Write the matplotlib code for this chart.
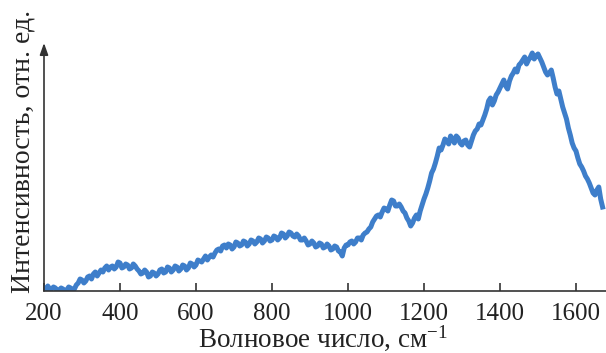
import matplotlib
matplotlib.use("Agg")
import matplotlib.pyplot as plt
import numpy as np

plt.rcParams['font.family'] = ['Liberation Serif', 'DejaVu Serif']
plt.rcParams['mathtext.fontset'] = 'custom'
plt.rcParams['mathtext.rm'] = 'Liberation Serif'
plt.rcParams['mathtext.it'] = 'Liberation Serif:italic'

wavenumber = list(range(200, 1675, 5))
intensity = [
    3, 1, 5, 2, 2, 4, 3, 0, 1, 3, 2, 0, 1, 4, 3, 1, 2, 6, 8, 12,
    11, 8, 10, 14, 15, 12, 17, 19, 15, 18, 21, 19, 23, 25, 21, 24, 25, 22, 24, 29,
    28, 23, 24, 27, 26, 22, 23, 27, 25, 22, 20, 17, 18, 21, 19, 14, 15, 19, 18, 15,
    17, 21, 22, 18, 19, 24, 23, 19, 21, 25, 24, 20, 22, 26, 25, 21, 23, 28, 27, 24,
    26, 31, 30, 29, 32, 35, 31, 34, 36, 34, 38, 41, 42, 40, 45, 46, 43, 47, 46, 42,
    44, 49, 48, 45, 46, 50, 49, 45, 47, 51, 50, 47, 49, 53, 52, 48, 50, 54, 53, 50,
    51, 55, 54, 51, 53, 58, 57, 53, 55, 59, 58, 55, 54, 57, 55, 51, 51, 53, 50, 46,
    47, 50, 48, 44, 45, 48, 47, 43, 44, 47, 45, 41, 42, 45, 44, 40, 39, 35, 43, 46,
    46, 49, 50, 47, 49, 53, 53, 51, 56, 58, 59, 62, 64, 69, 72, 75, 76, 74, 79, 83,
    82, 80, 86, 91, 90, 85, 85, 87, 84, 80, 78, 73, 70, 65, 68, 73, 76, 72, 80, 86,
    92, 97, 103, 110, 118, 122, 128, 135, 143, 141, 146, 152, 150, 147, 155, 152, 148, 155, 153, 148,
    146, 150, 151, 146, 144, 150, 156, 160, 162, 167, 166, 171, 176, 182, 190, 193, 186, 190, 196, 199,
    203, 207, 211, 205, 202, 210, 215, 218, 222, 219, 226, 228, 231, 234, 227, 231, 234, 238, 232, 235,
    237, 233, 229, 224, 219, 216, 218, 221, 213, 204, 197, 200, 192, 184, 178, 172, 163, 156, 148, 143,
    140, 133, 127, 124, 120, 115, 112, 108, 103, 98, 96, 101, 104, 92, 84,
]
xticks = [200, 400, 600, 800, 1000, 1200, 1400, 1600]

fig = plt.figure(figsize=(6.06, 3.53), dpi=100)
ax = fig.add_axes([44/606, 1-291/353, 1-44/606, (291-43)/353])
ax.plot(wavenumber, intensity, color='#3e7eca', lw=3.6, solid_joinstyle='round')
ax.set_xlim(200, 1679)
ax.set_ylim(0, 248)
for s in ['top', 'right', 'left']:
    ax.spines[s].set_visible(False)
ax.spines['bottom'].set_color('#333333')
ax.spines['bottom'].set_linewidth(1.2)
ax.set_xticks(xticks)
ax.set_xticklabels([str(t) for t in xticks])
ax.set_yticks([])
ax.tick_params(axis='x', direction='in', length=6, width=1.2, color='#333333',
               labelsize=18, pad=9, labelcolor='#222222')
ax.annotate('', xy=(0, 1.0), xytext=(0, 0), xycoords='axes fraction',
            arrowprops=dict(arrowstyle='-|>,head_length=0.7,head_width=0.25',
                            color='#333333', lw=1.2, shrinkA=0, shrinkB=0),
            annotation_clip=False)
fig.text(323/606, 1-347/353, 'Волновое число, см$^{-1}$', ha='center', va='baseline',
         fontsize=19.5, color='#222222')
fig.text(23/606, 1-151/353, 'Интенсивность, отн. ед.', ha='center', va='center',
         rotation=90, fontsize=20, color='#222222')
fig.savefig('out.png', dpi=100)
